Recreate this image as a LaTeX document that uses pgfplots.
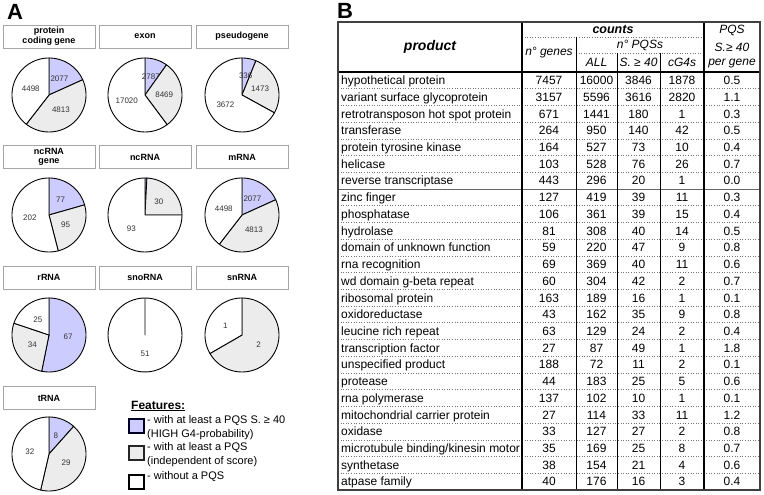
\documentclass[border=0pt]{standalone}
\usepackage{pgfplots}
\pgfplotsset{compat=1.18}
\usepackage{fontspec}
\setmainfont{Liberation Sans}
\definecolor{pqsblue}{RGB}{204,204,255}
\definecolor{pqsgrey}{RGB}{236,236,236}
\newcommand{\fs}[1]{\fontsize{#1bp}{#1bp}\selectfont}
\pgfplotsset{
  pieaxis/.style={hide axis, scale only axis, width=74bp, height=74bp,
    xmin=-1, xmax=1, ymin=-1, ymax=1, anchor=center, clip=false},
  slice/.style={draw=black, line width=0.9bp, line join=round, samples=60, mark=none},
}
\tikzset{
  plab/.style={font=\fs{8}, text=black!80, inner sep=0pt},
  hbox/.style={draw=black!35, fill=white, minimum width=92bp, minimum height=23bp,
    inner sep=0pt, align=center, font=\bfseries\fontsize{9bp}{9.6bp}\selectfont},
}
% #1 cx, #2 cy (from top), #3 blue, #4 grey, #5 white, #6-#8 labels
\newcommand{\pie}[8]{%
  \edef\aB{\fpeval{90-360*#3/(#3+#4+#5)}}%
  \edef\aC{\fpeval{90-360*(#3+#4)/(#3+#4+#5)}}%
  \edef\mA{\fpeval{(90+\aB)/2}}%
  \edef\mB{\fpeval{(\aB+\aC)/2}}%
  \edef\mC{\fpeval{(\aC-270)/2}}%
  \edef\py{\fpeval{495-#2}}%
  \begin{axis}[pieaxis, at={(#1bp,\py bp)}]
    \ifnum#3>0 \addplot[slice, fill=pqsblue, domain=\aB:90] ({cos(x)},{sin(x)}) -- (0,0) -- cycle; \fi
    \ifnum#4>0 \addplot[slice, fill=pqsgrey, domain=\aC:\aB] ({cos(x)},{sin(x)}) -- (0,0) -- cycle; \fi
    \ifnum#5>0 \addplot[slice, fill=white, domain=-270:\aC] ({cos(x)},{sin(x)}) -- (0,0) -- cycle; \fi
    \node[plab] at ({0.52*cos(\mA)},{0.52*sin(\mA)}) {#6};
    \node[plab] at ({0.52*cos(\mB)},{0.52*sin(\mB)}) {#7};
    \node[plab] at ({0.52*cos(\mC)},{0.52*sin(\mC)}) {#8};
  \end{axis}}
\begin{document}
\begin{tikzpicture}[x=1bp, y=1bp]
\useasboundingbox (0,0) rectangle (764,495);
% ---------------- Panel A ----------------
\node[font=\bfseries\fs{22}] at (15,495-12) {A};
\node[hbox] at (49,495-36.5) {protein\\coding gene};
\node[hbox] at (145,495-36.5) {exon};
\node[hbox] at (242,495-36.5) {pseudogene};
\pie{49}{95}{2077}{4813}{4498}{2077}{4813}{4498}
\pie{145}{95}{2787}{8469}{17020}{2787}{8469}{17020}
\pie{242}{95}{336}{1473}{3672}{336}{1473}{3672}

\node[hbox] at (49,495-157) {ncRNA\\gene};
\node[hbox] at (145,495-157) {ncRNA};
\node[hbox] at (242,495-157) {mRNA};
\pie{49}{215}{77}{95}{202}{77}{95}{202}
\pie{145}{215}{1}{30}{93}{}{30}{93}
\pie{242}{215}{2077}{4813}{4498}{2077}{4813}{4498}

\node[hbox] at (49,495-277.5) {rRNA};
\node[hbox] at (145,495-277.5) {snoRNA};
\node[hbox] at (242,495-277.5) {snRNA};
\pie{49}{335}{67}{34}{25}{67}{34}{25}
\pie{145}{335}{0}{0}{51}{}{}{51}
\pie{242}{335}{0}{2}{1}{}{2}{1}

\node[hbox] at (49,495-398) {tRNA};
\pie{49}{454}{8}{29}{32}{8}{29}{32}

% legend
\node[anchor=west, font=\bfseries\fs{12}, inner sep=0pt] at (131,495-406) {\underline{Features:}};
\draw[line width=1.6bp, draw=black!85!blue, fill=pqsblue] (129,495-433) rectangle (144,495-419);
\draw[line width=1.6bp, draw=black!85, fill=pqsgrey] (129,495-460) rectangle (144,495-446);
\draw[line width=1.6bp, draw=black, fill=white] (129,495-489) rectangle (144,495-475);
\begin{scope}[every node/.style={anchor=west, font=\fs{11}, inner sep=0pt}]
\node at (147,495-421) {- with at least a PQS S. ≥ 40};
\node at (147,495-434.5) {(HIGH G4-probability)};
\node at (147,495-448) {- with at least a PQS};
\node at (147,495-462) {(independent of score)};
\node at (147,495-477) {- without a PQS};
\end{scope}

% ---------------- Panel B ----------------
\node[font=\bfseries\fs{22}] at (345,495-11) {B};
% header text
\node[font=\bfseries\itshape\fs{14}] at (430,495-47) {product};
\node[font=\bfseries\itshape\fs{12.5}] at (613,495-29.5) {counts};
\node[font=\itshape\fs{12}] at (640,495-45) {n° PQSs};
\node[font=\itshape\fs{12}] at (549,495-53) {n° genes};
\node[font=\itshape\fs{12}] at (596.5,495-62.5) {ALL};
\node[font=\itshape\fs{12}] at (638.5,495-62.5) {S. ≥ 40};
\node[font=\itshape\fs{12}] at (682,495-62.5) {cG4s};
\node[font=\itshape\fs{12}] at (732,495-30) {PQS};
\node[font=\itshape\fs{12}] at (732,495-47) {S.≥ 40};
\node[font=\itshape\fs{12}] at (732,495-64) {per gene};
% rows
\foreach [count=\i] \n/\g/\a/\s/\c/\p in {
 hypothetical protein/7457/16000/3846/1878/0.5,
 variant surface glycoprotein/3157/5596/3616/2820/1.1,
 retrotransposon hot spot protein/671/1441/180/1/0.3,
 transferase/264/950/140/42/0.5,
 protein tyrosine kinase/164/527/73/10/0.4,
 helicase/103/528/76/26/0.7,
 reverse transcriptase/443/296/20/1/0.0,
 zinc finger/127/419/39/11/0.3,
 phosphatase/106/361/39/15/0.4,
 hydrolase/81/308/40/14/0.5,
 domain of unknown function/59/220/47/9/0.8,
 rna recognition/69/369/40/11/0.6,
 wd domain g-beta repeat/60/304/42/2/0.7,
 ribosomal protein/163/189/16/1/0.1,
 oxidoreductase/43/162/35/9/0.8,
 leucine rich repeat/63/129/24/2/0.4,
 transcription factor/27/87/49/1/1.8,
 unspecified product/188/72/11/2/0.1,
 protease/44/183/25/5/0.6,
 rna polymerase/137/102/10/1/0.1,
 mitochondrial carrier protein/27/114/33/11/1.2,
 oxidase/33/127/27/2/0.8,
 microtubule binding\slash kinesin motor/35/169/25/8/0.7,
 synthetase/38/154/21/4/0.6,
 atpase family/40/176/16/3/0.4}
{
 \pgfmathsetmacro\yb{495-(72+16.72*(\i-0.5)+4.3)}
 \begin{scope}[every node/.style={anchor=base, font=\fs{12}, inner sep=0pt}]
 \node[anchor=base west] at (341,\yb) {\n};
 \node at (549,\yb) {\g};
 \node at (596.5,\yb) {\a};
 \node at (638.5,\yb) {\s};
 \node at (682,\yb) {\c};
 \node at (732,\yb) {\p};
 \end{scope}
 \ifnum\i<25
  \pgfmathsetmacro\yl{495-(72+16.72*\i)}
  \ifnum\i=7
   \draw[black!60, line width=0.6bp] (338,\yl) -- (760,\yl);
  \else
   \draw[black!55, line width=0.6bp, dotted] (338,\yl) -- (760,\yl);
  \fi
 \fi
}
% grid lines
\draw[black!55, line width=0.6bp, dotted] (522,495-37) -- (704,495-37);
\draw[black!55, line width=0.6bp, dotted] (576,495-53) -- (704,495-53);
\draw[black, line width=0.8bp] (576,495-37) -- (576,495-490);
\draw[black, line width=0.8bp] (617,495-53) -- (617,495-490);
\draw[black, line width=0.8bp] (660,495-53) -- (660,495-490);
\draw[black, line width=2bp] (522,495-22) -- (522,495-490);
\draw[black, line width=2bp] (704,495-22) -- (704,495-490);
\draw[black, line width=1.8bp] (338,495-72) -- (760,495-72);
\draw[black!75, line width=1.4bp] (338,495-22) rectangle (760,495-490);
\end{tikzpicture}
\end{document}
